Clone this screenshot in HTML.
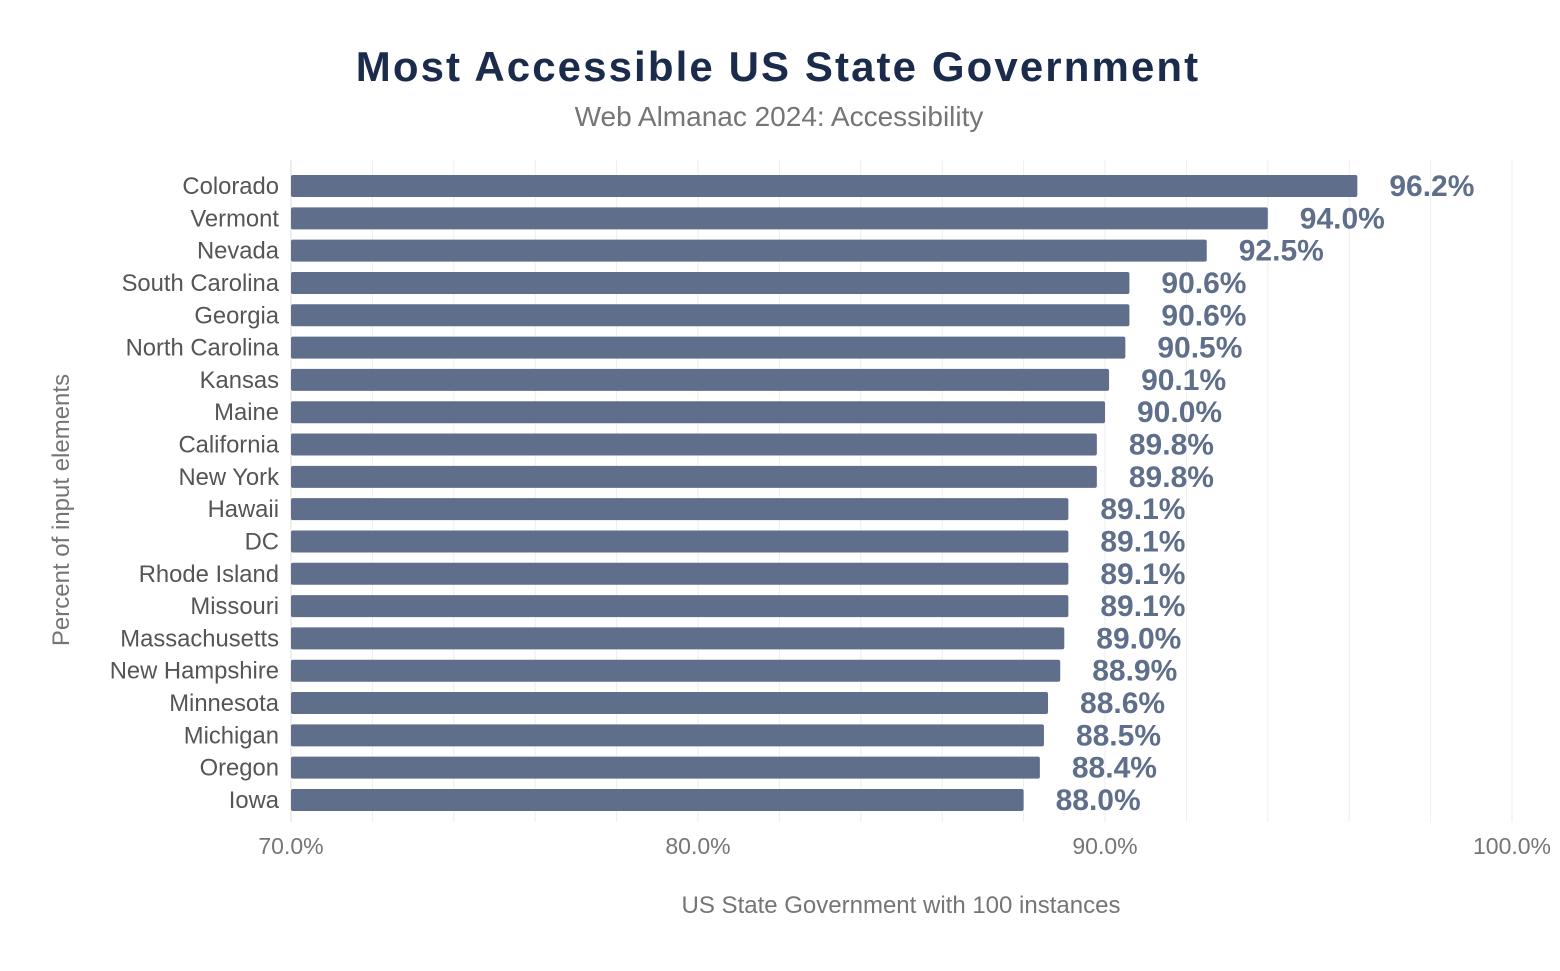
<!DOCTYPE html>
<html><head><meta charset="utf-8"><style>
body{margin:0;background:#fff;width:1560px;height:966px;overflow:hidden;font-family:"Liberation Sans",sans-serif}
</style></head><body>
<svg id="chart" width="1560" height="966" xmlns="http://www.w3.org/2000/svg">
<text x="778" y="81" text-anchor="middle" font-family="Liberation Sans, sans-serif" font-weight="900" font-size="42" fill="#1a2b4b" style="letter-spacing:2.1px">Most Accessible US State Government</text>
<text x="779" y="126" text-anchor="middle" font-size="28" fill="#757575">Web Almanac 2024: Accessibility</text>
<g id="grid"></g><g id="bars"></g><g id="ticks"></g>
<text transform="translate(69,510) rotate(-90)" text-anchor="middle" font-size="24" fill="#757575">Percent of input elements</text>
<text x="901" y="913" text-anchor="middle" font-size="24" fill="#757575">US State Government with 100 instances</text>
</svg>
<script>
const states=["Colorado","Vermont","Nevada","South Carolina","Georgia","North Carolina","Kansas","Maine","California","New York","Hawaii","DC","Rhode Island","Missouri","Massachusetts","New Hampshire","Minnesota","Michigan","Oregon","Iowa"];
const values=[96.2,94.0,92.5,90.6,90.6,90.5,90.1,90.0,89.8,89.8,89.1,89.1,89.1,89.1,89.0,88.9,88.6,88.5,88.4,88.0];
const tickValues=[70,80,90,100];
const ns="http://www.w3.org/2000/svg";
const x=v=>291+(v-70)*(1512-291)/30;
const y=i=>186+i*(800-186)/19;
function mk(t,a,p){const e=document.createElementNS(ns,t);for(const k in a)e.setAttribute(k,a[k]);p.appendChild(e);return e;}
const grid=document.getElementById('grid'),bars=document.getElementById('bars'),ticks=document.getElementById('ticks');
for(let v=70;v<=100;v+=2){
 const l=mk('line',{x1:x(v),x2:x(v),y1:160,y2:822,stroke:v===70?'#ddd':'#eee','stroke-width':1},grid);
 
 
}
tickValues.forEach(v=>{
 const t=mk('text',{x:x(v),y:854,'text-anchor':'middle','font-size':23,fill:'#757575'},ticks);
 t.textContent=v.toFixed(1)+'%';
 
 
});
states.forEach((s,i)=>{
 const c=y(i);
 const lb=mk('text',{x:279,y:c+8,'text-anchor':'end','font-size':23.8,fill:'#555'},bars);
 lb.textContent=s;
 
 
 const r=mk('rect',{x:x(70),y:c-11,width:x(values[i])-x(70),height:22,rx:2,fill:'#5f6f8b'},bars);
 
 
 const vl=mk('text',{x:x(values[i])+32,y:c+10,'font-size':30,'font-weight':'bold',fill:'#5f6f8b'},bars);
 vl.textContent=values[i].toFixed(1)+'%';
 
 
});
</script>
</body></html>
